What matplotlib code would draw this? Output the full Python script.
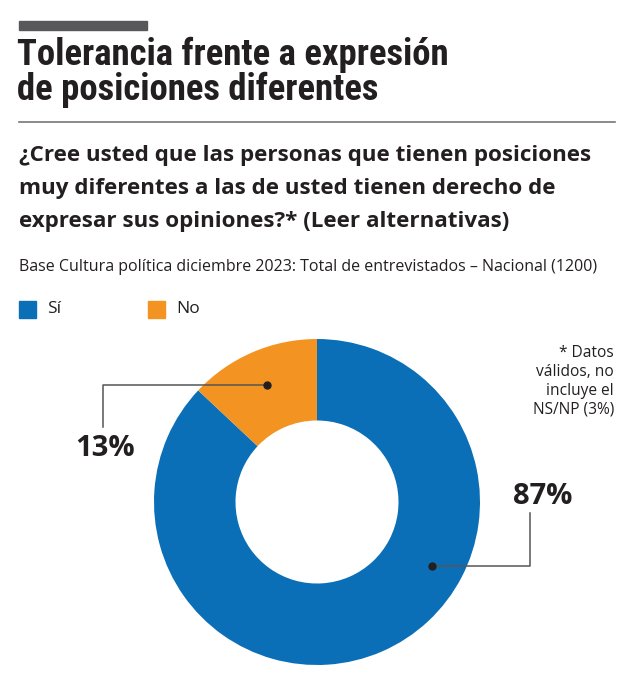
import numpy as np
import matplotlib.pyplot as plt
from matplotlib.patches import Rectangle
from matplotlib.lines import Line2D

categories = ['Sí', 'No']
values = [87, 13]
colors = ['#0B6FB8', '#F39422']
labels = ['87%', '13%']

title = 'Tolerancia frente a expresión\nde posiciones diferentes'
question = ('¿Cree usted que las personas que tienen posiciones\n'
            'muy diferentes a las de usted tienen derecho de\n'
            'expresar sus opiniones?* (Leer alternativas)')
base = 'Base Cultura política diciembre 2023: Total de entrevistados – Nacional (1200)'
note = '* Datos\nválidos, no\nincluye el\nNS/NP (3%)'

W, H = 640, 673
fig = plt.figure(figsize=(W / 100, H / 100), dpi=100)
ink = '#231f20'
body = ['Open Sans', 'DejaVu Sans']

def fx(px):
    return px / W

def fy(py):
    return 1 - py / H

# header
fig.add_artist(Rectangle((fx(19), fy(30)), fx(128), 9 / H, color='#58585a',
                         transform=fig.transFigure))
fig.text(fx(17), fy(37), title, fontsize=26.5, fontweight='bold', va='top',
         family=['Roboto Condensed', 'Roboto', 'DejaVu Sans'],
         color=ink, linespacing=0.96)
fig.add_artist(Line2D([fx(19), fx(615)], [fy(122), fy(122)], color='#777777',
                      lw=1.2, transform=fig.transFigure))
fig.text(fx(19), fy(145), question, fontsize=16.1, fontweight='bold', va='top',
         family=body, color=ink, linespacing=1.74)
fig.text(fx(19), fy(267), base, fontsize=11.55, va='center', family=body, color=ink)

# legend
leg_x = [19, 148]
for x0, cat, col in zip(leg_x, categories, colors):
    fig.add_artist(Rectangle((fx(x0), fy(318)), fx(17), 17 / H, color=col,
                             transform=fig.transFigure))
    fig.text(fx(x0 + 28), fy(309), cat, fontsize=12.5, va='center',
             family=body, color=ink)

fig.text(fx(614), fy(345), note, fontsize=11.2, ha='right', va='top',
         family=body, color=ink, linespacing=1.25)

# donut
cx, cy, R = 317, 502, 163
ax = fig.add_axes([fx(cx - R), fy(cy + R), 2 * R / W, 2 * R / H])
ax.pie(values, colors=colors, startangle=90, counterclock=False, radius=1,
       wedgeprops=dict(width=0.5, edgecolor='none'))
ax.set_xlim(-1, 1)
ax.set_ylim(-1, 1)
ax.set_aspect('equal')
ax.axis('off')

def px2d(px, py):
    return (px - cx) / R, (cy - py) / R

# 13% callout
a = np.deg2rad(90 + values[1] / 100 * 360 / 2)
dx, dy = 0.78 * np.cos(a), 0.78 * np.sin(a)
lx, _ = px2d(103, 0)
_, ly = px2d(0, 427)
ax.plot([dx, lx, lx], [dy, dy, ly], color='#555555', lw=1.1, clip_on=False)
ax.plot(dx, dy, 'o', color=ink, ms=5, clip_on=False)
tx, ty = px2d(105, 449)
ax.text(tx, ty, labels[1], fontsize=21, fontweight='bold', ha='center', va='center',
        family=body, color=ink)

# 87% callout
a = np.deg2rad(-29)
dx, dy = 0.81 * np.cos(a), 0.81 * np.sin(a)
lx, ly = px2d(530, 513)
ax.plot([dx, lx, lx], [dy, dy, ly], color='#555555', lw=1.1, clip_on=False)
ax.plot(dx, dy, 'o', color=ink, ms=5, clip_on=False)
tx, ty = px2d(543, 497)
ax.text(tx, ty, labels[0], fontsize=21, fontweight='bold', ha='center', va='center',
        family=body, color=ink)

fig.savefig('out.png', dpi=100)
